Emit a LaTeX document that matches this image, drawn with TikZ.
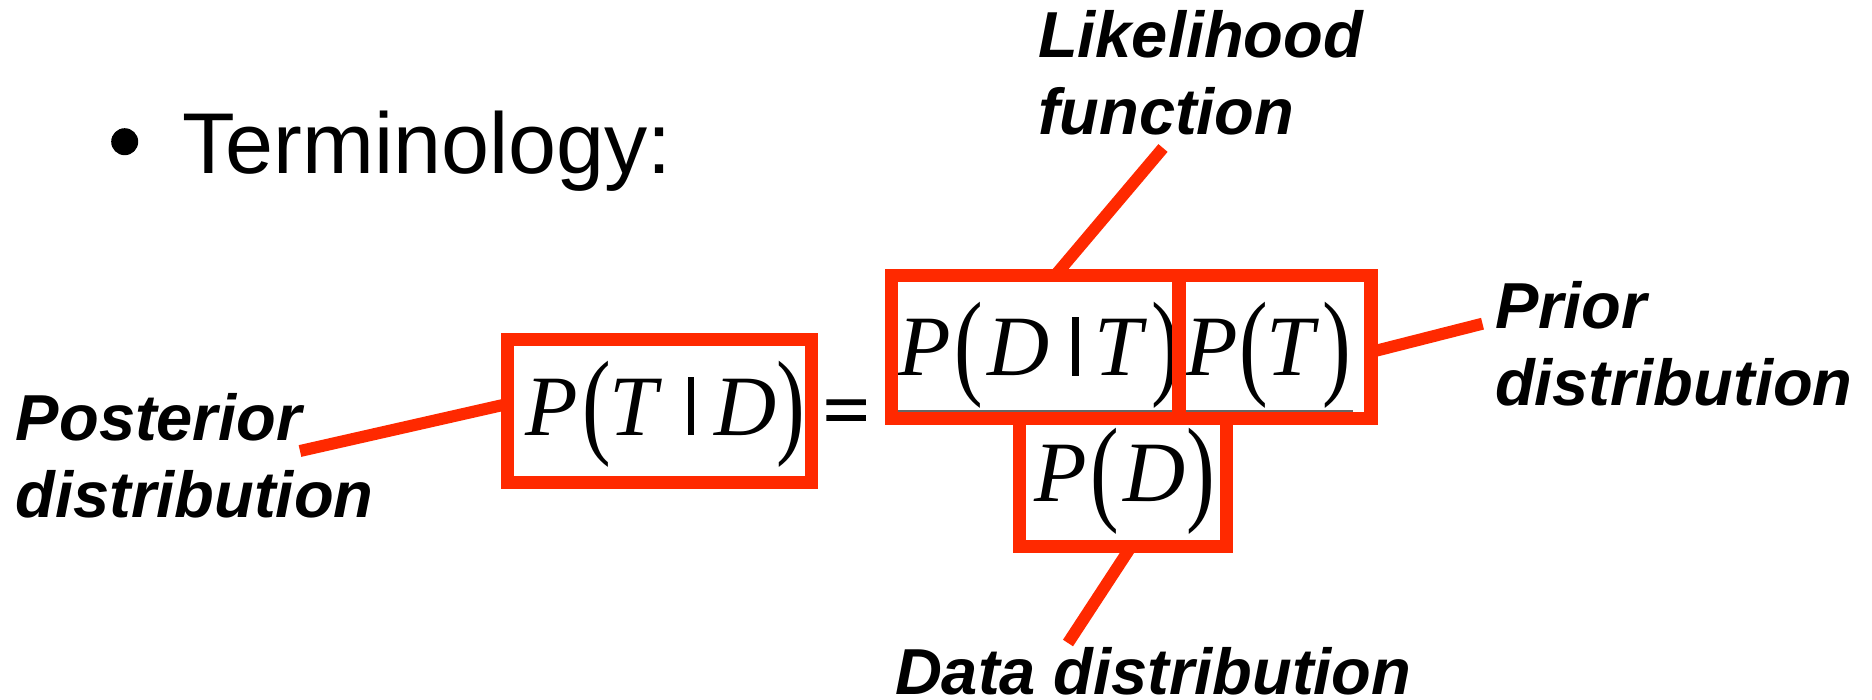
\documentclass[tikz,border=0pt]{standalone}
\usepackage{fontspec}
\setmainfont{Liberation Sans}
\newfontfamily\tmsfont{Liberation Serif}
\newfontfamily\eqfont[FakeBold=2]{Liberation Sans}
\usepackage{graphicx}
\definecolor{hl}{RGB}{255,41,0}
\newcommand\gat[2]{\makebox[0pt][l]{\hspace*{#1pt}#2}}
\newcommand\mi[1]{{\tmsfont\itshape #1}}
\newcommand\lpar{\raisebox{-7.6pt}{\scalebox{1}[1.364]{\tmsfont\upshape (}}}
\newcommand\rpar{\raisebox{-7.6pt}{\scalebox{1}[1.364]{\tmsfont\upshape )}}}
\newcommand\vbar{\rule{6.3pt}{58.5pt}}
\newcommand\twolines[2]{\vtop{\baselineskip=76.7pt\hbox{#1}\hbox{#2}}}
\begin{document}
\begin{tikzpicture}[x=1pt,y=-1pt,
  frame/.style={draw=hl, line width=13.5pt, inner sep=0pt, outer sep=0pt, rectangle},
  conn/.style={draw=hl, line width=12pt},
  mathtxt/.style={inner sep=0pt, outer sep=0pt, anchor=base west, font=\fontsize{86}{100}\selectfont},
  lbl/.style={inner sep=0pt, outer sep=0pt, anchor=base west, font=\fontsize{65}{76.7}\selectfont\bfseries\itshape}]
\path[use as bounding box, fill=white] (0,0) rectangle (1872,699);

% title
\node[circle, fill=black, minimum size=27pt, inner sep=0pt] (bullet) at (124.7,141.7) {};
\node[inner sep=0pt, anchor=base west, font=\fontsize{86.3}{100}\selectfont] (title) at (182,173.3) {Terminology:};

% fraction bar
\draw[line width=1.5pt, black!60] (898,411) -- (1353,411);

% math
\node[mathtxt] (postm) at (520,435) {\makebox[280pt][l]{\gat{5}{\mi{P}}\gat{62.6}{\lpar}\gat{89.9}{\mi{T}}\gat{167.7}{\vbar}\gat{194.7}{\mi{D}}\gat{256.8}{\rpar}}};
\node[inner sep=0pt, outer sep=0pt, anchor=base west, font=\fontsize{78}{100}\eqfont] (eq) at (823.4,430.7) {\scalebox{1}[0.804]{=}};
\node[mathtxt] (likm) at (890,375.7) {\makebox[285pt][l]{\gat{8.3}{\mi{P}}\gat{64.9}{\lpar}\gat{97.4}{\mi{D}}\gat{182.3}{\vbar}\gat{204.9}{\mi{T}}\gat{261.5}{\rpar}}};
\node[mathtxt] (prim) at (1180,375.7) {\makebox[170pt][l]{\gat{5}{\mi{P}}\gat{59.2}{\lpar}\gat{86.6}{\mi{T}}\gat{142.5}{\rpar}}};
\node[mathtxt] (denm) at (1030,501.7) {\makebox[185pt][l]{\gat{4}{\mi{P}}\gat{60.9}{\lpar}\gat{93.4}{\mi{D}}\gat{156.8}{\rpar}}};

% frames
\node[frame, minimum width=304pt, minimum height=143pt] (post) at (659.3,410.8) {};
\node[frame, minimum width=287.9pt, minimum height=142.6pt] (lik) at (1035.25,347) {};
\node[frame, minimum width=191.8pt, minimum height=142.6pt] (pri) at (1275.1,347) {};
\node[frame, minimum width=207.4pt, minimum height=128.4pt] (den) at (1123,482.5) {};

% labels
\node[lbl] (likl) at (1038,57.3) {\twolines{Likelihood}{function}};
\node[lbl] (pril) at (1495,328.3) {\twolines{Prior}{distribution}};
\node[lbl] (postl) at (16,440.7) {\twolines{Posterior}{distribution}};
\node[lbl] (denl) at (895,694) {Data distribution};

% connectors
\coordinate (likend) at (1163,148);
\coordinate (priend) at (1482.5,323.7);
\coordinate (postend) at (300,451);
\coordinate (denend) at (1068,643);
\draw[conn] ([xshift=19.75pt]lik.north) -- (likend);
\draw[conn] ([yshift=-5pt]pri.east) -- (priend);
\draw[conn] ([yshift=6.8pt]post.west) -- (postend);
\draw[conn] ([xshift=8pt]den.south) -- (denend);
\end{tikzpicture}
\end{document}
